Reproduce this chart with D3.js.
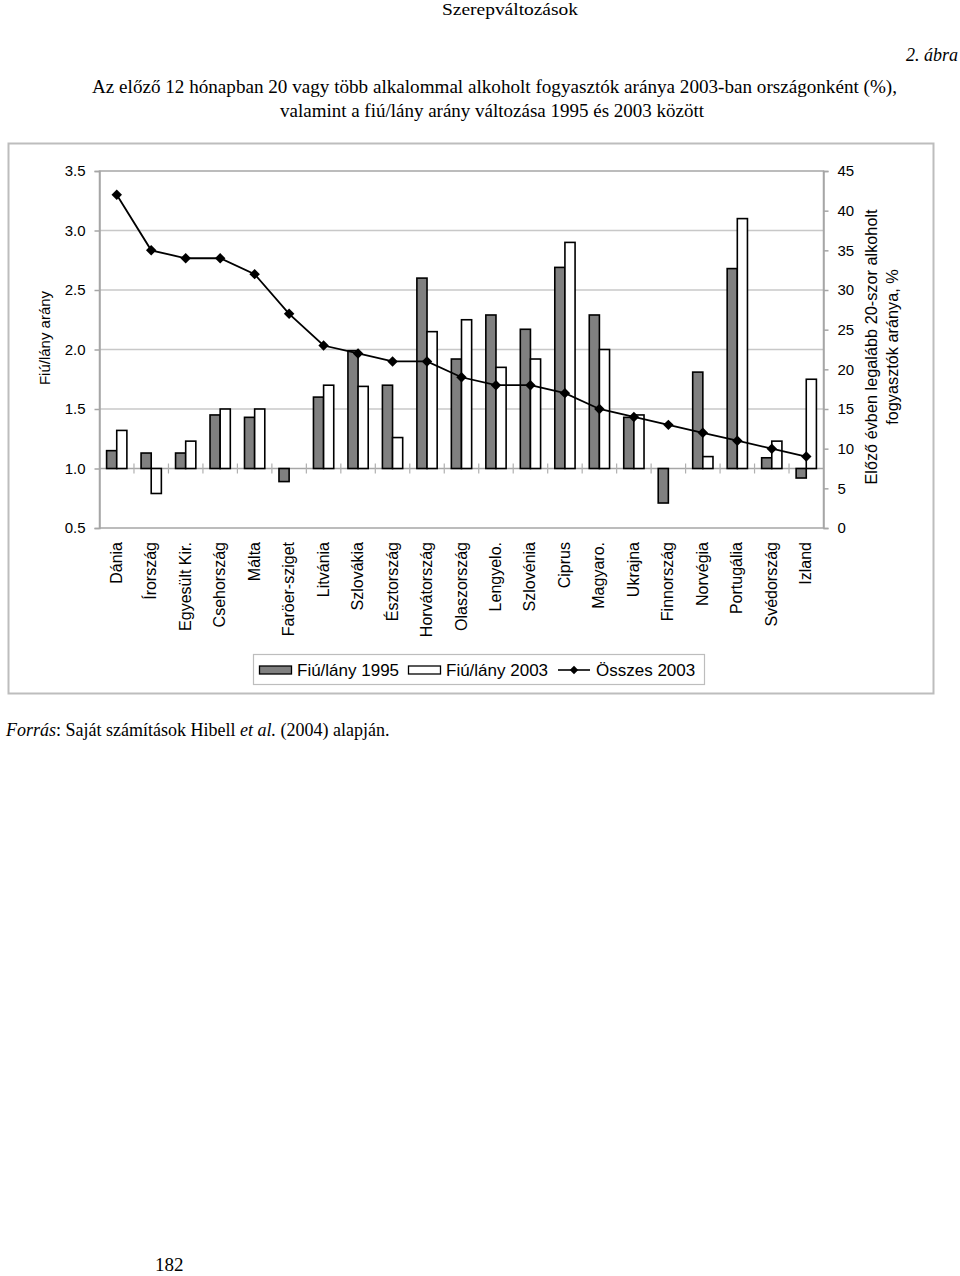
<!DOCTYPE html>
<html><head><meta charset="utf-8">
<script src="https://cdn.jsdelivr.net/npm/d3@7"></script>
<style>body{margin:0;background:#fff}svg{display:block}</style>
</head><body>
<script>
const categories = ["Dánia","Írország","Egyesült Kir.","Csehország","Málta","Faröer-sziget","Litvánia","Szlovákia","Észtország","Horvátország","Olaszország","Lengyelo.","Szlovénia","Ciprus","Magyaro.","Ukrajna","Finnország","Norvégia","Portugália","Svédország","Izland"];
const ratio1995 = [1.15,1.13,1.13,1.45,1.43,0.89,1.60,1.99,1.70,2.60,1.92,2.29,2.17,2.69,2.29,1.43,0.71,1.81,2.68,1.09,0.92];
const ratio2003 = [1.32,0.79,1.23,1.50,1.50,null,1.70,1.69,1.26,2.15,2.25,1.85,1.92,2.90,2.00,1.45,null,1.10,3.10,1.23,1.75];
const total2003 = [42,35,34,34,32,27,23,22,21,21,19,18,18,17,15,14,13,12,11,10,9];
const leftTicks = [0.5,1.0,1.5,2.0,2.5,3.0,3.5];
const rightTicks = [0,5,10,15,20,25,30,35,40,45];
const seriesNames = ["Fiú/lány 1995","Fiú/lány 2003","Összes 2003"];

const W=960,H=1276;
const sans="'Liberation Sans', Arial, sans-serif", serif="'Liberation Serif', 'Times New Roman', serif";
const svg=d3.select("body").append("svg").attr("width",W).attr("height",H);

// page texts
svg.append("text").attr("x",510).attr("y",15).attr("text-anchor","middle").attr("font-family",serif).attr("font-size",17)
  .attr("textLength",136).attr("lengthAdjust","spacingAndGlyphs").text("Szerepváltozások");
svg.append("text").attr("x",958).attr("y",61).attr("text-anchor","end").attr("font-family",serif).attr("font-size",18).attr("font-style","italic").text("2. ábra");
svg.append("text").attr("x",494.5).attr("y",93).attr("text-anchor","middle").attr("font-family",serif).attr("font-size",18)
  .attr("textLength",805).attr("lengthAdjust","spacingAndGlyphs").text("Az előző 12 hónapban 20 vagy több alkalommal alkoholt fogyasztók aránya 2003-ban országonként (%),");
svg.append("text").attr("x",492).attr("y",117).attr("text-anchor","middle").attr("font-family",serif).attr("font-size",18)
  .attr("textLength",424).attr("lengthAdjust","spacingAndGlyphs").text("valamint a fiú/lány arány változása 1995 és 2003 között");

// chart frame
svg.append("rect").attr("x",8.5).attr("y",143.5).attr("width",925).attr("height",550).attr("fill","none").attr("stroke","#bdbdbd").attr("stroke-width",2);

const x0=99.5,x1=823.5,yT=171,yB=528;
const x=d3.scaleBand().domain(categories).range([x0,x1]).paddingInner(0).paddingOuter(0);
const xs=d3.scaleBand().domain(["1995","2003"]).range([0,x.bandwidth()]).paddingInner(0).paddingOuter(0.7);
const yL=d3.scaleLinear().domain([0.5,3.5]).range([yB,yT]);
const yR=d3.scaleLinear().domain([0,45]).range([yB,yT]);

// gridlines
svg.append("g").selectAll("line").data(leftTicks.filter(d=>d>1&&d<3.5)).join("line")
  .attr("x1",x0).attr("x2",x1).attr("y1",d=>yL(d)).attr("y2",d=>yL(d)).attr("stroke","#c8c8c8").attr("stroke-width",1.5);
// plot border
svg.append("rect").attr("x",x0).attr("y",yT).attr("width",x1-x0).attr("height",yB-yT).attr("fill","none").attr("stroke","#a6a6a6").attr("stroke-width",1.5);

// left axis
const gL=svg.append("g").attr("transform",`translate(${x0},0)`)
  .call(d3.axisLeft(yL).tickValues(leftTicks).tickFormat(d3.format(".1f")).tickSize(5).tickPadding(9));
gL.select(".domain").attr("stroke","#a6a6a6").attr("stroke-width",1.5);
gL.selectAll(".tick line").attr("stroke","#a6a6a6").attr("stroke-width",1.5);
gL.selectAll("text").attr("font-family",sans).attr("font-size",15).attr("fill","#000");
// right axis
const gR=svg.append("g").attr("transform",`translate(${x1},0)`)
  .call(d3.axisRight(yR).tickValues(rightTicks).tickSize(5).tickPadding(9));
gR.select(".domain").attr("stroke","#a6a6a6").attr("stroke-width",1.5);
gR.selectAll(".tick line").attr("stroke","#a6a6a6").attr("stroke-width",1.5);
gR.selectAll("text").attr("font-family",sans).attr("font-size",15).attr("fill","#000");

// category axis at 1.0
const yBase=yL(1);
svg.append("line").attr("x1",x0).attr("x2",x1).attr("y1",yBase).attr("y2",yBase).attr("stroke","#a6a6a6").attr("stroke-width",1.5);
svg.append("g").selectAll("line").data(categories.slice(1)).join("line")
  .attr("x1",d=>x(d)).attr("x2",d=>x(d)).attr("y1",yBase-5).attr("y2",yBase+5).attr("stroke","#b0b0b0").attr("stroke-width",1.2);

// bars
const barData=[];
categories.forEach((c,i)=>{
  if(ratio1995[i]!=null) barData.push({c,s:"1995",v:ratio1995[i]});
  if(ratio2003[i]!=null) barData.push({c,s:"2003",v:ratio2003[i]});
});
svg.append("g").selectAll("rect").data(barData).join("rect")
  .attr("x",d=>x(d.c)+xs(d.s)).attr("width",xs.bandwidth())
  .attr("y",d=>Math.min(yL(d.v),yBase)).attr("height",d=>Math.abs(yL(d.v)-yBase))
  .attr("fill",d=>d.s==="1995"?"#808080":"#fff").attr("stroke","#000").attr("stroke-width",1.6);

// line
const pts=categories.map((c,i)=>[x(c)+x.bandwidth()/2,yR(total2003[i])]);
svg.append("path").attr("d",d3.line()(pts)).attr("fill","none").attr("stroke","#000").attr("stroke-width",1.8);
const diamond=d3.symbol().type(d3.symbolDiamond2).size(70);
svg.append("g").selectAll("path").data(pts).join("path")
  .attr("transform",d=>`translate(${d[0]},${d[1]})`).attr("d",diamond).attr("fill","#000");

// category labels
svg.append("g").selectAll("text").data(categories).join("text")
  .attr("transform",d=>`translate(${x(d)+x.bandwidth()/2+5},542) rotate(-90)`)
  .attr("text-anchor","end").attr("font-family",sans).attr("font-size",16).text(d=>d);

// axis titles
svg.append("text").attr("transform","translate(50,338) rotate(-90)").attr("text-anchor","middle")
  .attr("font-family",sans).attr("font-size",15).text("Fiú/lány arány");
const rt=svg.append("text").attr("transform","translate(877,347) rotate(-90)").attr("text-anchor","middle")
  .attr("font-family",sans).attr("font-size",16.3);
rt.append("tspan").attr("x",0).attr("dy",0).text("Előző évben legalább 20-szor alkoholt");
rt.append("tspan").attr("x",0).attr("dy",21).text("fogyasztók aránya, %");

// legend
svg.append("rect").attr("x",253.5).attr("y",654.5).attr("width",451).attr("height",30).attr("fill","#fff").attr("stroke","#bdbdbd").attr("stroke-width",1.2);
const leg=svg.append("g").attr("font-family",sans).attr("font-size",17);
leg.append("rect").attr("x",259.5).attr("y",666).attr("width",32).attr("height",8).attr("fill","#808080").attr("stroke","#000").attr("stroke-width",1.3);
leg.append("text").attr("x",297).attr("y",676).text(seriesNames[0]);
leg.append("rect").attr("x",408.5).attr("y",666).attr("width",32).attr("height",8).attr("fill","#fff").attr("stroke","#000").attr("stroke-width",1.3);
leg.append("text").attr("x",446).attr("y",676).text(seriesNames[1]);
leg.append("line").attr("x1",558).attr("x2",590).attr("y1",670).attr("y2",670).attr("stroke","#000").attr("stroke-width",1.6);
leg.append("path").attr("transform","translate(574,670)").attr("d",d3.symbol().type(d3.symbolDiamond2).size(45)).attr("fill","#000");
leg.append("text").attr("x",596).attr("y",676).text(seriesNames[2]);

// footer
const f=svg.append("text").attr("x",6).attr("y",736).attr("font-family",serif).attr("font-size",18);
f.append("tspan").attr("font-style","italic").text("Forrás");
f.append("tspan").text(": Saját számítások Hibell ");
f.append("tspan").attr("font-style","italic").text("et al.");
f.append("tspan").text(" (2004) alapján.");
svg.append("text").attr("x",155).attr("y",1271).attr("font-family",serif).attr("font-size",19).text("182");
</script>
</body></html>
